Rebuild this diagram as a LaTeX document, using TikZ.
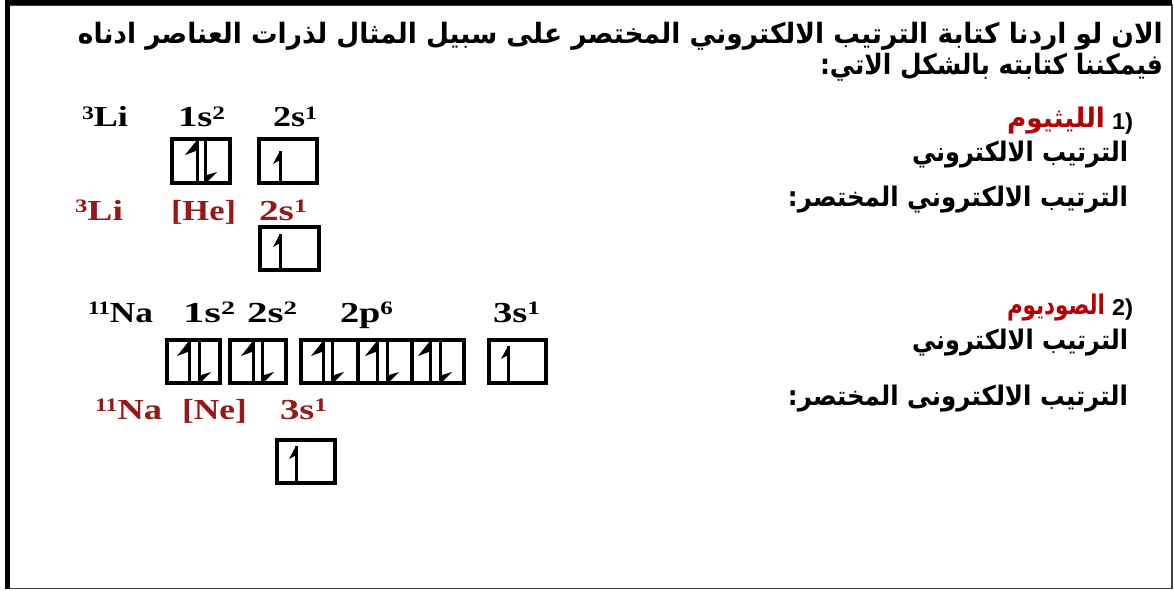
\documentclass[tikz,border=0pt]{standalone}
\usepackage{fontspec}
\usepackage{graphicx}
\TeXXeTstate=1
\newfontfamily\arabicfont[Script=Arabic]{DejaVu Sans}
\newfontfamily\lserif{Liberation Serif}
\newfontfamily\lsans{Liberation Sans}
\definecolor{chemred}{HTML}{961818}
\definecolor{namered}{HTML}{B40000}
\newcommand\sps[1]{\raisebox{0.27em}{\fontsize{19pt}{19pt}\selectfont #1}}
\newcommand\lab[2]{\resizebox{#1}{\height}{\lserif\bfseries\fontsize{29pt}{29pt}\selectfont #2}}
\newcommand\arw[3]{\resizebox{#1}{\height}{\arabicfont\bfseries\fontsize{#2}{#2}\selectfont\beginR #3\endR}}
\newcommand\nlab[2]{\resizebox{#1}{\height}{\lsans\bfseries\fontsize{23pt}{23pt}\selectfont #2}}
\newcommand\harpup[5]{\draw[arrline] (#1,#3) -- (#1,#2);
  \fill (#1,#2) -- ++({-#4},{#5}) -- ++({#4},{-0.3*#5}) -- cycle;}
\newcommand\harpdown[5]{\draw[arrline] (#1,#2) -- (#1,#3);
  \fill (#1,#3) -- ++({#4},{-#5}) -- ++({-#4},{0.3*#5}) -- cycle;}
\begin{document}
\begin{tikzpicture}[x=1pt,y=-1pt,
  txt/.style={inner sep=0pt, outer sep=0pt},
  obox/.style={draw=black, line width=3.4pt},
  arrline/.style={line width=3pt}]
\useasboundingbox (0,0) rectangle (1174,591);
\fill[white] (0,0) rectangle (1174,591);
% frame
\draw[line width=1.8pt, black!75] (10,5) -- (1172,5) -- (1172,588.5) -- (10,588.5);
\fill[black] (5,0) rectangle (1172,5);
\fill[black] (5,0) rectangle (10,589);

% top text
\node[txt, anchor=base east] (t1) at (1163,44) {\arw{1085pt}{28pt}{الان لو اردنا كتابة الترتيب الالكتروني المختصر على سبيل المثال لذرات العناصر ادناه}};
\node[txt, anchor=base east] (t2) at (1163,75) {\arw{343pt}{28pt}{فيمكننا كتابته بالشكل الاتي:}};

% right side labels
\node[txt, anchor=base west] (n1) at (1112,129) {\nlab{13pt}{1}};
\node[txt, anchor=base west] (p1) at (1125,129) {\nlab{8pt}{)}};
\node[txt, anchor=base east, text=namered] (li) at (1105,128) {\arw{98pt}{27pt}{الليثيوم}};
\node[txt, anchor=base east] (a1) at (1128,161) {\arw{216pt}{27pt}{الترتيب الالكتروني}};
\node[txt, anchor=base east] (a2) at (1128,206) {\arw{340pt}{27pt}{الترتيب الالكتروني المختصر:}};
\node[txt, anchor=base west] (n2) at (1112,315) {\nlab{13pt}{2}};
\node[txt, anchor=base west] (p2) at (1125,315) {\nlab{8pt}{)}};
\node[txt, anchor=base east, text=namered] (na) at (1105,314) {\arw{98pt}{27pt}{الصوديوم}};
\node[txt, anchor=base east] (a3) at (1128,349) {\arw{216pt}{27pt}{الترتيب الالكتروني}};
\node[txt, anchor=base east] (a4) at (1128,405) {\arw{340pt}{27pt}{الترتيب الالكترونى المختصر:}};

% lithium
\node[txt, anchor=base west] (l1) at (82,127) {\lab{46pt}{\sps{3}Li}};
\node[txt, anchor=base west] (l2) at (178,127) {\lab{47pt}{1s\sps{2}}};
\node[txt, anchor=base west] (l3) at (273,127) {\lab{44pt}{2s\sps{1}}};
\node[txt, anchor=base west, text=chemred] (l4) at (75,220) {\lab{48pt}{\sps{3}Li}};
\node[txt, anchor=base west, text=chemred] (l5) at (171,220) {\lab{65pt}{[He]}};
\node[txt, anchor=base west, text=chemred] (l6) at (259,220) {\lab{48pt}{2s\sps{1}}};

\draw[obox] (172,139) rectangle (230,183);
\harpup{197}{140}{183}{12}{15}
\harpdown{205}{140}{184}{12}{12}
\draw[obox] (259,139) rectangle (317,183);
\harpup{280}{151}{183}{7}{13}
\draw[obox] (260,227) rectangle (319,270);
\harpup{280}{234}{270}{7}{13}

% sodium
\node[txt, anchor=base west] (s1) at (88,322) {\lab{65pt}{\sps{11}Na}};
\node[txt, anchor=base west] (s2) at (183,322) {\lab{52pt}{1s\sps{2}}};
\node[txt, anchor=base west] (s3) at (247,322) {\lab{50pt}{2s\sps{2}}};
\node[txt, anchor=base west] (s4) at (340,322) {\lab{53pt}{2p\sps{6}}};
\node[txt, anchor=base west] (s5) at (493,322) {\lab{47pt}{3s\sps{1}}};
\node[txt, anchor=base west, text=chemred] (s6) at (95,419) {\lab{67pt}{\sps{11}Na}};
\node[txt, anchor=base west, text=chemred] (s7) at (182,419) {\lab{65pt}{[Ne]}};
\node[txt, anchor=base west, text=chemred] (s8) at (280,419) {\lab{47pt}{3s\sps{1}}};

\draw[obox] (167,340) rectangle (220,383);
\harpup{189}{341}{383}{12}{15}
\harpdown{199}{341}{384}{12}{12}
\draw[obox] (230,340) rectangle (286,383);
\harpup{253}{341}{383}{12}{15}
\harpdown{262}{341}{384}{12}{12}
\draw[obox] (301,340) rectangle (358,383);
\draw[obox] (358,340) rectangle (412,383);
\draw[obox] (412,340) rectangle (464,383);
\harpup{323}{341}{383}{12}{15}
\harpdown{332}{341}{384}{12}{12}
\harpup{377}{341}{383}{12}{15}
\harpdown{387}{341}{384}{12}{12}
\harpup{430}{341}{383}{12}{15}
\harpdown{440}{341}{384}{12}{12}
\draw[obox] (489,340) rectangle (546,383);
\harpup{508}{346}{383}{7}{13}
\draw[obox] (277,440) rectangle (335,483);
\harpup{296}{446}{483}{7}{13}
\end{tikzpicture}
\end{document}
